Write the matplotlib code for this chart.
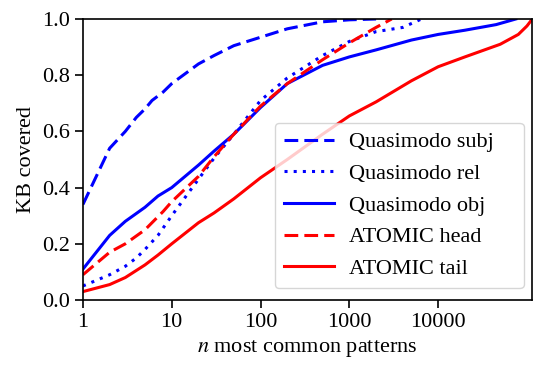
import matplotlib
matplotlib.use("Agg")
import matplotlib.pyplot as plt
from matplotlib.ticker import FixedLocator, NullLocator

plt.rcParams['font.family'] = ['Liberation Serif', 'DejaVu Serif']
plt.rcParams['mathtext.fontset'] = 'stix'
plt.rcParams['font.size'] = 16

# curves (n, share of KB covered)
subj_n = [1, 2, 3, 4, 5, 6, 8, 10, 20, 30, 50, 100, 200, 500, 1000, 2000]
subj_y = [0.34, 0.54, 0.60, 0.65, 0.68, 0.71, 0.74, 0.77, 0.84, 0.87, 0.905, 0.935, 0.965, 0.99, 0.997, 1.0]

rel_n = [1, 2, 3, 4, 5, 7, 10, 20, 30, 50, 100, 200, 500, 1000, 2000, 4000, 6500]
rel_y = [0.05, 0.09, 0.12, 0.15, 0.18, 0.23, 0.30, 0.43, 0.505, 0.59, 0.71, 0.79, 0.87, 0.92, 0.955, 0.97, 1.0]

obj_n = [1, 2, 3, 5, 7, 10, 20, 30, 50, 100, 200, 500, 1000, 2000, 5000, 10000, 20000, 45000, 75000]
obj_y = [0.11, 0.23, 0.28, 0.33, 0.37, 0.40, 0.48, 0.53, 0.59, 0.685, 0.77, 0.835, 0.865, 0.89, 0.925, 0.945, 0.96, 0.98, 1.0]

head_n = [1, 2, 3, 5, 8, 10, 20, 30, 50, 100, 200, 500, 1000, 2000, 3000]
head_y = [0.09, 0.17, 0.20, 0.25, 0.315, 0.35, 0.44, 0.51, 0.59, 0.69, 0.77, 0.855, 0.915, 0.97, 1.0]

tail_n = [1, 2, 3, 5, 7, 10, 20, 30, 50, 100, 200, 500, 1000, 2000, 5000, 10000, 20000, 50000, 80000, 100000, 115000]
tail_y = [0.03, 0.055, 0.08, 0.125, 0.16, 0.20, 0.275, 0.31, 0.36, 0.435, 0.50, 0.59, 0.655, 0.705, 0.78, 0.83, 0.865, 0.91, 0.945, 0.975, 1.0]

xticks = [1, 10, 100, 1000, 10000]

fig = plt.figure(figsize=(5.35, 3.65), dpi=100)
ax = fig.add_axes([0.155, 0.178, 0.84, 0.77])

lw = 2.2
ax.plot(subj_n, subj_y, color='blue', ls=(0, (4.5, 2)), lw=lw, label='Quasimodo subj')
ax.plot(rel_n, rel_y, color='blue', ls=(0, (1, 2)), lw=lw, label='Quasimodo rel')
ax.plot(obj_n, obj_y, color='blue', ls='-', lw=lw, label='Quasimodo obj')
ax.plot(head_n, head_y, color='red', ls=(0, (4.5, 2)), lw=lw, label='ATOMIC head')
ax.plot(tail_n, tail_y, color='red', ls='-', lw=lw, label='ATOMIC tail')

ax.set_xscale('log')
ax.set_xlim(1, 115000)
ax.set_ylim(0, 1.0)
ax.xaxis.set_major_locator(FixedLocator(xticks))
ax.xaxis.set_minor_locator(NullLocator())
ax.set_xticklabels([str(t) for t in xticks])
ax.set_yticks([0.0, 0.2, 0.4, 0.6, 0.8, 1.0])
ax.tick_params(axis='both', which='major', length=6, width=1.2)
for s in ax.spines.values():
    s.set_linewidth(1.2)

ax.set_xlabel('$n$ most common patterns')
ax.set_ylabel('KB covered')
# wide legend box like the reference
ax.legend(loc='lower left', bbox_to_anchor=(0.427, 0.043, 0.554, 0.587), mode='expand',
          borderaxespad=0, fontsize=16, handlelength=2.25, handletextpad=0.7)

plt.savefig('out.png', dpi=100)
